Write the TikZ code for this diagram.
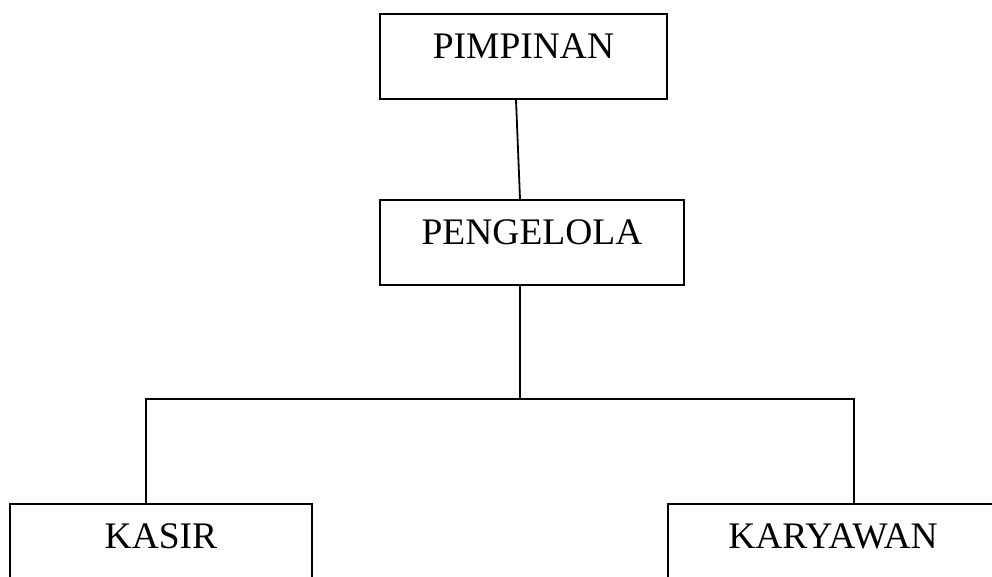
\documentclass[tikz,border=0pt]{standalone}
\usepackage{fontspec}
\setmainfont{Liberation Serif}
\usetikzlibrary{calc}

\begin{document}
\begin{tikzpicture}[x=1pt, y=-1pt, line width=1.8pt,
    jabatan/.style={draw, rectangle, anchor=north, inner sep=0pt,
      text height=45pt, text depth=40pt,
      font=\fontsize{37.5}{44}\selectfont}]
    \clip (0,0) rectangle (992,577);
    \node[jabatan, minimum width=287pt] (pimpinan) at (523.5,13) {PIMPINAN};
    \node[jabatan, minimum width=304pt] (pengelola) at (532,199) {PENGELOLA};
    \node[jabatan, minimum width=302pt, text depth=120pt] (kasir) at (161,503) {KASIR};
    \node[jabatan, minimum width=330pt, text depth=120pt] (karyawan) at (833,503) {KARYAWAN};
    \coordinate (cabang) at (520,399);
    \draw ([xshift=-7.5pt]pimpinan.south) -- ([xshift=-12pt]pengelola.north);
    \draw ([xshift=-12pt]pengelola.south) -- (cabang);
    \draw ([xshift=-15pt]kasir.north) |- (cabang) -| ([xshift=21pt]karyawan.north);
  \end{tikzpicture}
\end{document}
